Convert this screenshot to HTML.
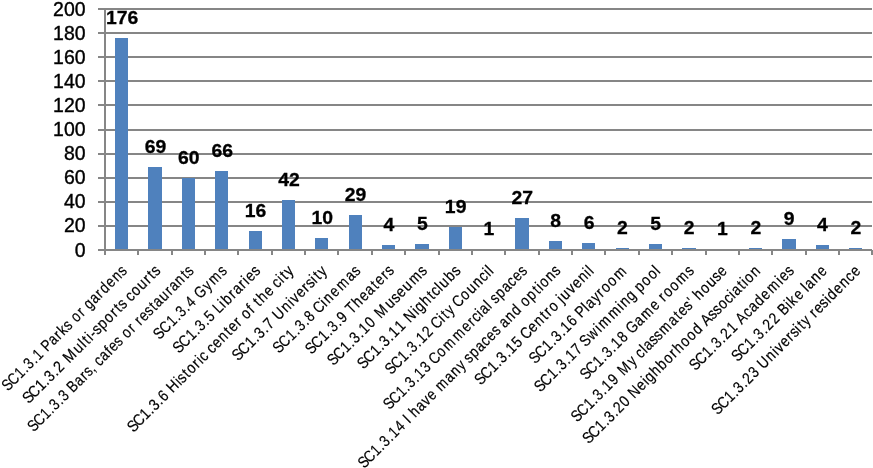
<!DOCTYPE html>
<html><head><meta charset="utf-8"><style>
html,body{margin:0;padding:0;background:#fff;width:873px;height:468px;overflow:hidden}
svg{display:block;will-change:transform}
text{font-family:"Liberation Sans",sans-serif;fill:#000}
.dl{stroke:#000;stroke-width:0.3px;font-weight:bold;font-size:19px;text-anchor:middle}
.yl{stroke:#000;stroke-width:0.4px;font-size:20.5px;text-anchor:end}
.xl{stroke:#000;stroke-width:0.2px;font-size:16px;text-anchor:middle}
</style></head><body>
<svg width="873" height="468" viewBox="0 0 873 468" shape-rendering="crispEdges">
<rect x="98" y="8.00" width="774.00" height="2" fill="#868686"/>
<rect x="98" y="32.10" width="774.00" height="2" fill="#868686"/>
<rect x="98" y="56.20" width="774.00" height="2" fill="#868686"/>
<rect x="98" y="80.30" width="774.00" height="2" fill="#868686"/>
<rect x="98" y="104.40" width="774.00" height="2" fill="#868686"/>
<rect x="98" y="128.50" width="774.00" height="2" fill="#868686"/>
<rect x="98" y="152.60" width="774.00" height="2" fill="#868686"/>
<rect x="98" y="176.70" width="774.00" height="2" fill="#868686"/>
<rect x="98" y="200.80" width="774.00" height="2" fill="#868686"/>
<rect x="98" y="224.90" width="774.00" height="2" fill="#868686"/>
<rect x="98" y="249.00" width="774.00" height="2" fill="#868686"/>
<rect x="104.00" y="8.00" width="2" height="247.00" fill="#868686"/>
<rect x="137" y="250.00" width="2" height="5" fill="#868686"/>
<rect x="171" y="250.00" width="2" height="5" fill="#868686"/>
<rect x="204" y="250.00" width="2" height="5" fill="#868686"/>
<rect x="237" y="250.00" width="2" height="5" fill="#868686"/>
<rect x="271" y="250.00" width="2" height="5" fill="#868686"/>
<rect x="304" y="250.00" width="2" height="5" fill="#868686"/>
<rect x="337" y="250.00" width="2" height="5" fill="#868686"/>
<rect x="371" y="250.00" width="2" height="5" fill="#868686"/>
<rect x="404" y="250.00" width="2" height="5" fill="#868686"/>
<rect x="438" y="250.00" width="2" height="5" fill="#868686"/>
<rect x="471" y="250.00" width="2" height="5" fill="#868686"/>
<rect x="504" y="250.00" width="2" height="5" fill="#868686"/>
<rect x="538" y="250.00" width="2" height="5" fill="#868686"/>
<rect x="571" y="250.00" width="2" height="5" fill="#868686"/>
<rect x="604" y="250.00" width="2" height="5" fill="#868686"/>
<rect x="638" y="250.00" width="2" height="5" fill="#868686"/>
<rect x="671" y="250.00" width="2" height="5" fill="#868686"/>
<rect x="705" y="250.00" width="2" height="5" fill="#868686"/>
<rect x="738" y="250.00" width="2" height="5" fill="#868686"/>
<rect x="771" y="250.00" width="2" height="5" fill="#868686"/>
<rect x="805" y="250.00" width="2" height="5" fill="#868686"/>
<rect x="838" y="250.00" width="2" height="5" fill="#868686"/>
<rect x="871" y="250.00" width="2" height="5" fill="#868686"/>
<rect x="115" y="38" width="13" height="212" fill="#4F81BD"/>
<rect x="148" y="167" width="14" height="83" fill="#4F81BD"/>
<rect x="182" y="178" width="13" height="72" fill="#4F81BD"/>
<rect x="215" y="171" width="13" height="79" fill="#4F81BD"/>
<rect x="249" y="231" width="13" height="19" fill="#4F81BD"/>
<rect x="282" y="200" width="13" height="50" fill="#4F81BD"/>
<rect x="315" y="238" width="13" height="12" fill="#4F81BD"/>
<rect x="349" y="215" width="13" height="35" fill="#4F81BD"/>
<rect x="382" y="245" width="13" height="5" fill="#4F81BD"/>
<rect x="415" y="244" width="14" height="6" fill="#4F81BD"/>
<rect x="449" y="227" width="13" height="23" fill="#4F81BD"/>
<rect x="482" y="249" width="13" height="1" fill="#4F81BD"/>
<rect x="515" y="218" width="14" height="32" fill="#4F81BD"/>
<rect x="549" y="241" width="13" height="9" fill="#4F81BD"/>
<rect x="582" y="243" width="13" height="7" fill="#4F81BD"/>
<rect x="616" y="248" width="13" height="2" fill="#4F81BD"/>
<rect x="649" y="244" width="13" height="6" fill="#4F81BD"/>
<rect x="682" y="248" width="14" height="2" fill="#4F81BD"/>
<rect x="716" y="249" width="13" height="1" fill="#4F81BD"/>
<rect x="749" y="248" width="13" height="2" fill="#4F81BD"/>
<rect x="782" y="239" width="14" height="11" fill="#4F81BD"/>
<rect x="816" y="245" width="13" height="5" fill="#4F81BD"/>
<rect x="849" y="248" width="13" height="2" fill="#4F81BD"/>
<rect x="98" y="249.00" width="774.00" height="2" fill="#868686"/>
<text class="dl" transform="translate(122.17,24.12) scale(1.02,1)">176</text>
<text class="dl" transform="translate(155.52,153.05) scale(1.02,1)">69</text>
<text class="dl" transform="translate(188.87,163.90) scale(1.02,1)">60</text>
<text class="dl" transform="translate(222.22,156.67) scale(1.02,1)">66</text>
<text class="dl" transform="translate(255.57,216.92) scale(1.02,1)">16</text>
<text class="dl" transform="translate(288.91,185.59) scale(1.02,1)">42</text>
<text class="dl" transform="translate(322.26,224.15) scale(1.02,1)">10</text>
<text class="dl" transform="translate(355.61,201.25) scale(1.02,1)">29</text>
<text class="dl" transform="translate(388.96,231.38) scale(1.02,1)">4</text>
<text class="dl" transform="translate(422.30,230.17) scale(1.02,1)">5</text>
<text class="dl" transform="translate(455.65,213.30) scale(1.02,1)">19</text>
<text class="dl" transform="translate(489.00,234.99) scale(1.02,1)">1</text>
<text class="dl" transform="translate(522.35,203.66) scale(1.02,1)">27</text>
<text class="dl" transform="translate(555.70,226.56) scale(1.02,1)">8</text>
<text class="dl" transform="translate(589.04,228.97) scale(1.02,1)">6</text>
<text class="dl" transform="translate(622.39,233.79) scale(1.02,1)">2</text>
<text class="dl" transform="translate(655.74,230.17) scale(1.02,1)">5</text>
<text class="dl" transform="translate(689.09,233.79) scale(1.02,1)">2</text>
<text class="dl" transform="translate(722.43,234.99) scale(1.02,1)">1</text>
<text class="dl" transform="translate(755.78,233.79) scale(1.02,1)">2</text>
<text class="dl" transform="translate(789.13,225.35) scale(1.02,1)">9</text>
<text class="dl" transform="translate(822.48,231.38) scale(1.02,1)">4</text>
<text class="dl" transform="translate(855.83,233.79) scale(1.02,1)">2</text>
<text class="yl" transform="translate(85.60,15.50) scale(0.95,1)">200</text>
<text class="yl" transform="translate(85.60,39.60) scale(0.95,1)">180</text>
<text class="yl" transform="translate(85.60,63.70) scale(0.95,1)">160</text>
<text class="yl" transform="translate(85.60,87.80) scale(0.95,1)">140</text>
<text class="yl" transform="translate(85.60,111.90) scale(0.95,1)">120</text>
<text class="yl" transform="translate(85.60,136.00) scale(0.95,1)">100</text>
<text class="yl" transform="translate(85.60,160.10) scale(0.95,1)">80</text>
<text class="yl" transform="translate(85.60,184.20) scale(0.95,1)">60</text>
<text class="yl" transform="translate(85.60,208.30) scale(0.95,1)">40</text>
<text class="yl" transform="translate(85.60,232.40) scale(0.95,1)">20</text>
<text class="yl" transform="translate(85.60,256.50) scale(0.95,1)">0</text>
<text class="xl" x="-199.82 -189.60 -178.90 -171.08 -163.27 -155.45 -147.64 -140.10 -132.45 -122.21 -114.13 -105.86 -97.16 -91.00 -83.24 -74.23 -68.31 -61.14 -51.37 -43.23 -34.23 -23.99 -13.46 -4.03" transform="translate(127.97,271.70) rotate(-45) scale(0.8276,1)">SC1.3.1 Parks or gardens</text>
<text class="xl" x="-209.92 -200.25 -190.11 -182.72 -175.32 -167.92 -160.53 -153.39 -142.86 -129.41 -122.06 -116.56 -111.06 -105.98 -99.19 -90.26 -80.01 -71.47 -64.81 -57.74 -51.73 -45.41 -36.15 -26.06 -17.54 -10.88 -3.81" transform="translate(161.32,271.70) rotate(-45) scale(0.8714,1)">SC1.3.2 Multi-sports courts</text>
<text class="xl" x="-268.06 -257.98 -247.43 -239.73 -232.02 -224.32 -216.62 -209.18 -201.37 -190.99 -182.59 -175.09 -168.93 -164.11 -157.52 -148.37 -140.58 -132.56 -124.05 -117.79 -110.14 -101.25 -95.42 -89.59 -81.01 -72.26 -64.89 -56.86 -46.92 -38.05 -29.65 -19.88 -11.15 -3.97" transform="translate(194.67,271.70) rotate(-45) scale(0.8318,1)">SC1.3.3 Bars, cafes or restaurants</text>
<text class="xl" x="-110.76 -100.34 -89.42 -81.44 -73.47 -65.49 -57.52 -49.82 -40.82 -29.44 -16.61 -4.11" transform="translate(228.02,271.70) rotate(-45) scale(0.8342,1)">SC1.3.4 Gyms</text>
<text class="xl" x="-132.64 -122.45 -111.78 -103.99 -96.20 -88.41 -80.62 -73.10 -66.47 -59.80 -52.05 -43.09 -34.59 -26.52 -20.59 -13.13 -4.01" transform="translate(261.37,271.70) rotate(-45) scale(0.8444,1)">SC1.3.5 Libraries</text>
<text class="xl" x="-259.31 -249.59 -239.41 -231.97 -224.54 -217.11 -209.67 -202.50 -194.18 -185.83 -179.76 -172.65 -164.43 -156.04 -150.38 -143.99 -137.64 -131.28 -122.27 -112.26 -103.83 -95.86 -87.79 -82.16 -74.78 -66.63 -61.43 -55.94 -47.51 -37.50 -30.41 -24.06 -17.67 -12.14 -4.43" transform="translate(294.71,271.70) rotate(-45) scale(0.8619,1)">SC1.3.6 Historic center of the city</text>
<text class="xl" x="-142.59 -132.61 -122.15 -114.52 -106.88 -99.25 -91.61 -84.24 -75.52 -63.78 -56.19 -49.34 -39.80 -31.48 -24.04 -18.15 -12.47 -4.55" transform="translate(328.06,271.70) rotate(-45) scale(0.8578,1)">SC1.3.7 University</text>
<text class="xl" x="-134.54 -124.22 -113.41 -105.51 -97.61 -89.72 -81.82 -74.20 -66.31 -58.37 -50.52 -39.89 -26.40 -13.12 -4.07" transform="translate(361.41,271.70) rotate(-45) scale(0.8331,1)">SC1.3.8 Cinemas</text>
<text class="xl" x="-134.29 -124.10 -113.42 -105.62 -97.82 -90.03 -82.23 -74.70 -67.38 -56.98 -46.48 -36.45 -28.09 -19.73 -11.26 -3.67" transform="translate(394.76,271.70) rotate(-45) scale(0.8433,1)">SC1.3.9 Theaters</text>
<text class="xl" x="-151.48 -141.47 -130.97 -123.31 -115.65 -107.98 -100.32 -90.09 -82.70 -71.79 -57.86 -48.61 -39.64 -29.32 -15.95 -3.95" transform="translate(428.10,271.70) rotate(-45) scale(0.8526,1)">SC1.3.10 Museums</text>
<text class="xl" x="-156.14 -146.20 -135.79 -128.18 -120.58 -112.97 -105.37 -95.22 -87.88 -79.15 -70.38 -63.37 -53.39 -44.78 -37.37 -31.08 -23.52 -13.00 -3.82" transform="translate(461.45,271.70) rotate(-45) scale(0.8577,1)">SC1.3.11 Nightclubs</text>
<text class="xl" x="-169.22 -159.09 -148.47 -140.72 -132.98 -125.23 -117.48 -107.13 -99.65 -91.91 -84.12 -78.36 -70.32 -63.40 -55.65 -44.83 -34.08 -23.36 -13.68 -7.03 -2.34" transform="translate(494.80,271.70) rotate(-45) scale(0.8396,1)">SC1.3.12 City Council</text>
<text class="xl" x="-230.47 -220.35 -209.75 -202.01 -194.27 -186.53 -178.79 -168.46 -160.99 -153.25 -142.44 -128.92 -112.64 -99.42 -90.80 -82.93 -76.58 -69.36 -62.14 -57.49 -51.20 -41.86 -31.62 -22.43 -13.05 -3.99" transform="translate(528.15,271.70) rotate(-45) scale(0.8315,1)">SC1.3.13 Commercial spaces</text>
<text class="xl" x="-329.41 -319.41 -308.94 -301.29 -293.64 -286.00 -278.35 -268.14 -260.76 -255.95 -251.13 -243.56 -233.45 -224.08 -214.85 -207.76 -197.44 -184.57 -174.45 -164.60 -158.14 -151.93 -142.70 -132.58 -123.50 -114.23 -105.28 -99.06 -91.96 -81.85 -71.26 -63.70 -56.11 -45.51 -36.84 -31.25 -23.77 -13.17 -3.94" transform="translate(561.50,271.70) rotate(-45) scale(0.8338,1)">SC1.3.14 I have many spaces and options</text>
<text class="xl" x="-183.18 -173.27 -162.89 -155.31 -147.73 -140.16 -132.58 -122.46 -115.15 -107.57 -97.29 -87.08 -78.49 -71.85 -63.11 -55.92 -51.27 -43.64 -33.89 -24.42 -14.40 -6.87 -2.29" transform="translate(594.84,271.70) rotate(-45) scale(0.8552,1)">SC1.3.15 Centro juvenil</text>
<text class="xl" x="-149.49 -139.42 -128.86 -121.16 -113.45 -105.75 -98.05 -87.76 -80.32 -72.79 -65.22 -58.03 -48.58 -40.82 -31.94 -21.56 -8.11" transform="translate(628.19,271.70) rotate(-45) scale(0.8487,1)">SC1.3.16 Playroom</text>
<text class="xl" x="-195.02 -185.12 -174.74 -167.17 -159.59 -152.02 -144.45 -134.34 -127.03 -120.19 -108.47 -99.22 -88.96 -73.03 -62.77 -55.24 -45.30 -38.35 -30.86 -20.36 -9.84 -2.29" transform="translate(661.54,271.70) rotate(-45) scale(0.8537,1)">SC1.3.17 Swimming pool</text>
<text class="xl" x="-177.14 -167.07 -156.52 -148.82 -141.12 -133.41 -125.71 -115.43 -107.99 -99.30 -88.04 -75.08 -61.92 -54.58 -48.75 -39.87 -29.49 -16.04 -3.97" transform="translate(694.89,271.70) rotate(-45) scale(0.8429,1)">SC1.3.18 Game rooms</text>
<text class="xl" x="-248.76 -238.78 -228.31 -220.67 -213.04 -205.40 -197.76 -187.56 -180.19 -169.31 -156.16 -149.33 -142.80 -136.24 -129.11 -120.36 -112.49 -100.52 -87.66 -79.47 -71.28 -62.56 -56.40 -51.91 -44.35 -33.76 -23.17 -13.95 -5.01" transform="translate(728.23,271.70) rotate(-45) scale(0.8404,1)">SC1.3.19 My classmates&#39; house</text>
<text class="xl" x="-281.09 -271.30 -261.03 -253.54 -246.05 -238.56 -231.06 -221.06 -213.83 -205.23 -193.95 -186.77 -179.86 -170.04 -159.67 -149.28 -140.63 -132.01 -121.62 -111.21 -100.83 -93.41 -85.47 -75.90 -68.18 -59.12 -49.74 -43.31 -36.32 -28.28 -22.90 -15.57 -5.18" transform="translate(761.58,271.70) rotate(-45) scale(0.8536,1)">SC1.3.20 Neighborhood Association</text>
<text class="xl" x="-161.35 -151.26 -140.68 -132.96 -125.24 -117.52 -109.80 -99.49 -92.03 -83.85 -73.67 -64.50 -54.45 -44.05 -30.87 -20.41 -13.01 -3.98" transform="translate(794.93,271.70) rotate(-45) scale(0.8441,1)">SC1.3.21 Academies</text>
<text class="xl" x="-147.47 -137.27 -126.57 -118.77 -110.96 -103.16 -95.35 -84.93 -77.39 -69.48 -61.53 -54.49 -44.70 -37.93 -33.24 -25.96 -15.63 -5.12" transform="translate(828.28,271.70) rotate(-45) scale(0.8386,1)">SC1.3.22 Bike lane</text>
<text class="xl" x="-234.54 -224.62 -214.24 -206.66 -199.08 -191.50 -183.92 -173.80 -166.48 -157.82 -146.17 -138.63 -131.83 -122.35 -114.10 -106.71 -100.86 -95.22 -87.36 -80.58 -74.84 -66.39 -57.78 -51.59 -44.05 -33.84 -23.62 -14.16 -4.97" transform="translate(861.63,271.70) rotate(-45) scale(0.8480,1)">SC1.3.23 University residence</text>
</svg>
</body></html>
